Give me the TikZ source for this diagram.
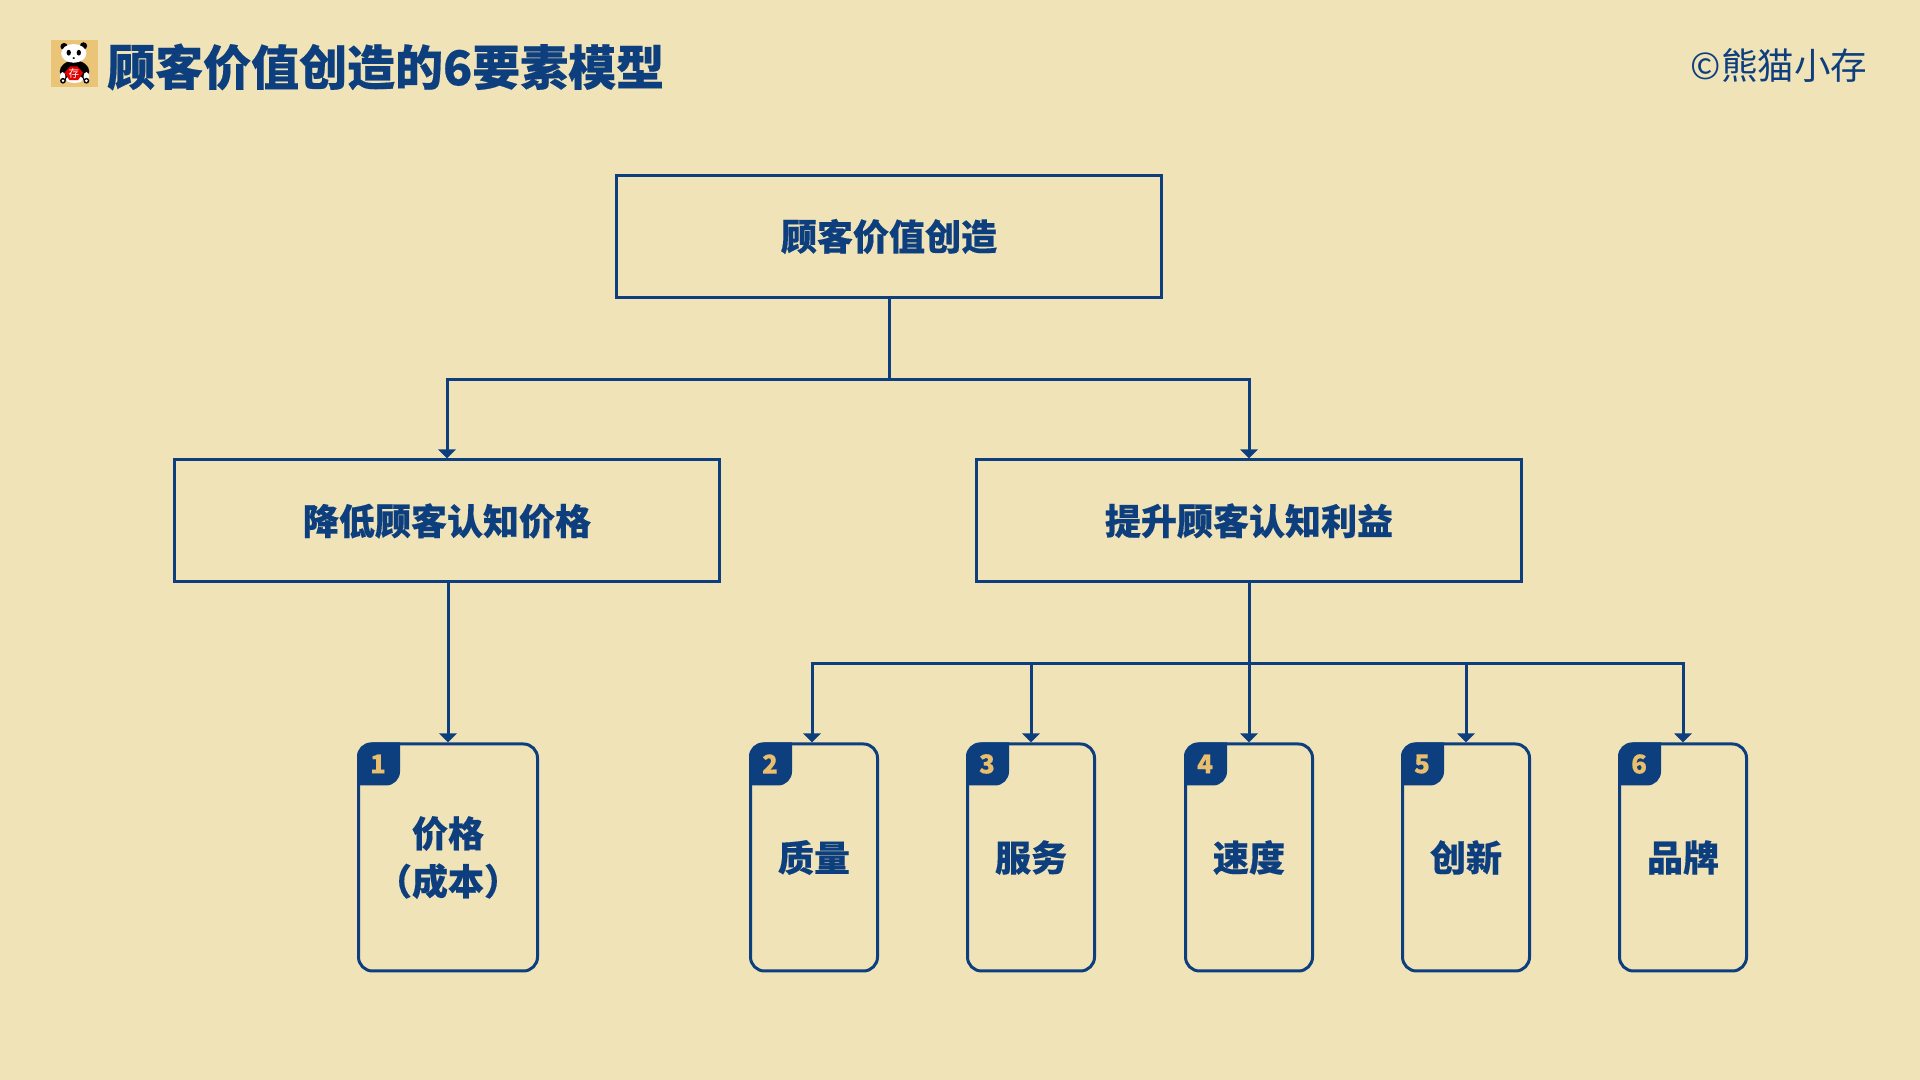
\documentclass[tikz,border=0pt]{standalone}
\usepackage{fontspec}
\setmainfont{Noto Sans CJK SC}[BoldFeatures={FakeBold=0.4}]
\usetikzlibrary{calc,arrows.meta}
\definecolor{paper}{HTML}{F0E3B8}
\definecolor{navy}{HTML}{0D3F7E}
\definecolor{gold}{HTML}{E9BE6C}
\tikzset{
	flowbox/.style={draw=navy, line width=0.03cm, minimum width=5.45cm, minimum height=1.22cm, text=navy, font=\fontsize{10.25}{12}\selectfont\bfseries},
	itemcard/.style={draw=navy, line width=0.03cm, rounded corners=0.14cm, minimum width=1.27cm, minimum height=2.27cm, text=navy, align=center, font=\fontsize{10.25}{13.6}\selectfont\bfseries},
	flowline/.style={draw=navy, line width=0.03cm},
	arrowline/.style={flowline, -{Triangle[width=0.17cm, length=0.09cm]}},
	badgetext/.style={text=gold, font=\fontsize{7.4}{8}\selectfont\bfseries, inner sep=0pt},
}
\def\numberbadge(#1)#2{
	\fill[navy] ($(#1.north west)+(0,-0.43)$) -- ++(0,0.29) arc (180:90:0.14) -- ++(0.29,0) -- ++(0,-0.29) arc (0:-90:0.14) -- cycle;
	\node[badgetext] (#1num) at ($(#1.north west)+(0.21,-0.215)$) {#2};
}

\begin{document}
\begin{tikzpicture}
	\fill[paper] (0,0) rectangle (19.2,10.8);
	\useasboundingbox (0,0) rectangle (19.2,10.8);
	
	% panda icon
	\fill[gold!85!paper] (0.51,9.93) rectangle (0.98,10.4);
	\begin{scope}[shift={(0.745,10.165)}, x=0.0036cm, y=0.0036cm]
		\fill[black] (-29,47) circle (10);
		\fill[black] (25,49) circle (10);
		\fill[black] (0,-22) ellipse (41 and 30);
		\fill[white] (-33,-36) ellipse (8 and 12);
		\fill[white] (33,-36) ellipse (8 and 12);
		\fill[white] (0,-44) ellipse (24 and 10);
		\fill[black] (-32,-48) circle (8);
		\fill[black] (33,-48) circle (8);
		\fill[white] (-32,-48) circle (4);
		\fill[white] (33,-48) circle (4);
		\fill[white] (-2,28) ellipse (35 and 26);
		\fill[black] (-16,30) ellipse (6 and 8);
		\fill[black] (12,30) ellipse (6 and 8);
		\fill[black] (-2,15) ellipse (4 and 2.5);
		\fill[red!90!black] (-28,-26) -- (-12,-8) -- (8,-8) -- (24,-26) -- (10,-46) -- (-14,-46) -- cycle;
		\node[text=white, font=\fontsize{3}{4}\selectfont, inner sep=0pt] (pandamark) at (-2,-27) {存};
	\end{scope}
	
	\node[anchor=west, inner sep=0pt, text=navy, font=\fontsize{13.65}{16}\selectfont\bfseries] (title) at (1.065,10.13) {顾客价值创造的6要素模型};
	\node[anchor=east, inner sep=0pt, text=navy, font=\fontsize{10.4}{12}\selectfont] (mark) at (18.68,10.15) {©熊猫小存};
	
	% boxes
	\node[flowbox] (topbox) at (8.89,8.435) {\raisebox{-0.03cm}{顾客价值创造}};
	\node[flowbox] (lowerbox) at (4.47,5.59) {\raisebox{-0.03cm}{降低顾客认知价格}};
	\node[flowbox] (raisebox) at (12.49,5.59) {\raisebox{-0.03cm}{提升顾客认知利益}};
	
	% cards
	\node[itemcard, minimum width=1.79cm] (price) at (4.48,2.225) {\raisebox{-0.03cm}{价格}\\\raisebox{-0.03cm}{（成本）}};
	\node[itemcard] (quality) at (8.14,2.225) {\raisebox{-0.03cm}{质量}};
	\node[itemcard] (service) at (10.31,2.225) {\raisebox{-0.03cm}{服务}};
	\node[itemcard] (speed) at (12.49,2.225) {\raisebox{-0.03cm}{速度}};
	\node[itemcard] (innovate) at (14.66,2.225) {\raisebox{-0.03cm}{创新}};
	\node[itemcard] (brand) at (16.83,2.225) {\raisebox{-0.03cm}{品牌}};
	
	\numberbadge(price){1}
	\numberbadge(quality){2}
	\numberbadge(service){3}
	\numberbadge(speed){4}
	\numberbadge(innovate){5}
	\numberbadge(brand){6}
	
	% connectors
	\coordinate (topbus) at (8.89,7.005);
	\coordinate (raisebus) at (12.49,4.16);
	\draw[flowline] (topbox) -- (topbus);
	\draw[arrowline] (topbus) -| (lowerbox.north);
	\draw[arrowline] (topbus) -| (raisebox.north);
	\draw[arrowline] (lowerbox.south -| price.north) -- (price.north);
	\draw[flowline] (raisebox) -- (raisebus);
	\draw[arrowline] (raisebus) -| ([xshift=-0.02cm]quality.north);
	\draw[arrowline] (raisebus) -| (service.north);
	\draw[arrowline] (raisebus) -- (speed.north);
	\draw[arrowline] (raisebus) -| (innovate.north);
	\draw[arrowline] (raisebus) -| (brand.north);
\end{tikzpicture}
\end{document}
